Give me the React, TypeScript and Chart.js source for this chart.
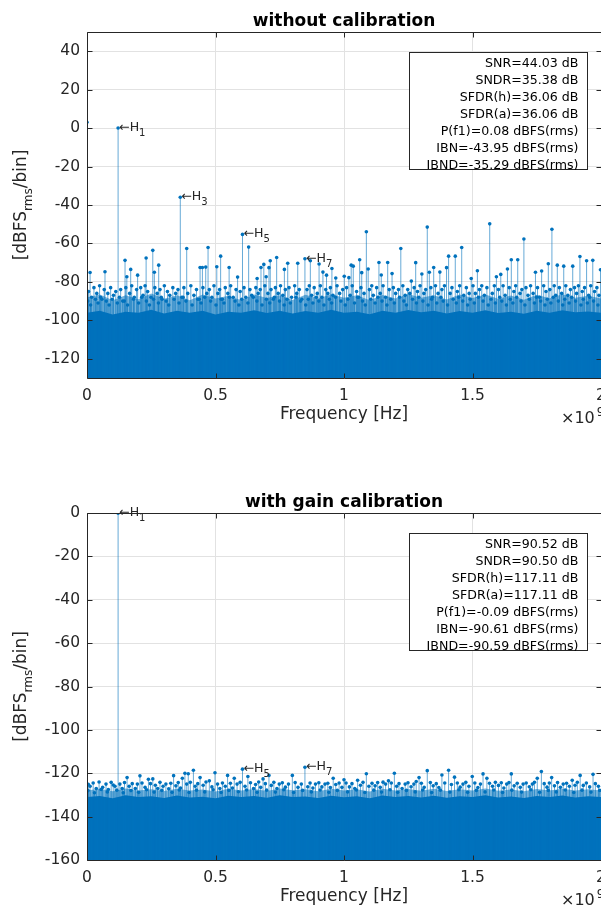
import React, { useEffect, useRef } from "react";
import { Chart, registerables } from "chart.js";

Chart.register(...registerables);

const FONT = "'DejaVu Sans', sans-serif";
const BLUE = "#0072BD";
const STEM = "rgba(0,114,189,0.6)";
const AXIS = "#262626";
const GRID = "#e2e2e2";

// ---------- shared axis values ----------
const xTicks = [0, 0.5, 1, 1.5, 2];
const xTickLabels = ["0", "0.5", "1", "1.5", "2"];
const floorFreqs = [
  0, 0.05, 0.1, 0.15, 0.2, 0.25, 0.3, 0.35, 0.4, 0.45, 0.5, 0.55, 0.6, 0.65, 0.7, 0.75, 0.8, 0.85, 0.9, 0.95, 1,
  1.05, 1.1, 1.15, 1.2, 1.25, 1.3, 1.35, 1.4, 1.45, 1.5, 1.55, 1.6, 1.65, 1.7, 1.75, 1.8, 1.85, 1.9, 1.95, 2,
];

// ---------- top panel: without calibration ----------
const topYTicks = [-120, -100, -80, -60, -40, -20, 0, 20, 40];
const topFloor = [
  -96, -95, -97, -95.5, -96, -94.5, -96.5, -95, -96, -95, -97, -95.5, -96, -94.8, -96.2, -95, -96.5, -95.2, -96, -94.5, -96,
  -95.5, -96.8, -95, -96, -94.6, -95.8, -95, -96.4, -95.2, -96, -94.8, -96.2, -95.5, -96.6, -95, -96, -94.7, -95.8, -95.4, -96,
];
const topHaze = [
  -88, -86.5, -89.5, -87, -89, -86, -88.8, -87, -89.5, -86.6, -88.6, -87.2, -89.5, -86.5, -88.4, -87, -89.4, -86.7, -88.6, -86.4, -88.2,
  -87, -89.6, -86.8, -88.6, -86.3, -88.3, -87, -89.2, -86.6, -88.4, -86.5, -88.8, -87.1, -89.3, -86.7, -88.5, -86.4, -88.2, -87.2, -88.6,
];
const topMinor: [number, number][] = [
  [0.006, -85], [0.018, -88], [0.027, -83], [0.038, -86], [0.049, -82], [0.058, -89], [0.067, -84], [0.081, -86], [0.092, -83],
  [0.103, -87], [0.112, -85], [0.131, -84], [0.139, -90], [0.151, -83], [0.166, -86], [0.174, -82], [0.184, -88], [0.193, -84],
  [0.209, -83], [0.218, -87], [0.226, -82], [0.236, -85], [0.249, -88], [0.264, -83], [0.273, -86], [0.284, -84], [0.292, -89],
  [0.301, -82], [0.313, -85], [0.322, -87], [0.334, -83], [0.345, -86], [0.354, -84], [0.369, -88], [0.377, -83], [0.392, -86],
  [0.404, -82], [0.416, -87], [0.426, -84], [0.437, -89], [0.451, -83], [0.466, -86], [0.476, -84], [0.486, -88], [0.494, -82],
  [0.509, -86], [0.516, -84], [0.527, -89], [0.538, -83], [0.548, -86], [0.559, -82], [0.569, -88], [0.58, -84], [0.596, -85],
  [0.611, -83], [0.618, -88], [0.634, -84], [0.641, -87], [0.657, -83], [0.666, -86], [0.674, -84], [0.692, -82], [0.704, -86],
  [0.716, -84], [0.725, -89], [0.733, -83], [0.744, -86], [0.753, -82], [0.762, -87], [0.772, -84], [0.786, -83], [0.796, -88],
  [0.808, -82], [0.816, -86], [0.826, -84], [0.836, -89], [0.856, -84], [0.865, -82], [0.874, -87], [0.884, -83], [0.896, -86],
  [0.908, -82], [0.914, -88], [0.929, -84], [0.937, -86], [0.947, -83], [0.957, -87], [0.973, -82], [0.983, -86], [0.995, -84],
  [1.01, -83], [1.024, -87], [1.032, -82], [1.049, -85], [1.057, -88], [1.066, -83], [1.078, -86], [1.099, -84], [1.108, -82],
  [1.114, -87], [1.127, -83], [1.141, -86], [1.152, -82], [1.162, -88], [1.176, -84], [1.192, -83], [1.201, -86], [1.212, -84],
  [1.229, -82], [1.238, -87], [1.248, -84], [1.256, -86], [1.273, -83], [1.286, -85], [1.296, -82], [1.311, -86], [1.318, -84],
  [1.338, -83], [1.344, -88], [1.356, -82], [1.366, -86], [1.381, -84], [1.391, -82], [1.413, -86], [1.42, -83], [1.441, -85],
  [1.45, -82], [1.466, -87], [1.476, -83], [1.487, -86], [1.502, -82], [1.511, -86], [1.527, -84], [1.536, -82], [1.546, -87],
  [1.556, -83], [1.577, -86], [1.585, -82], [1.601, -84], [1.619, -82], [1.627, -87], [1.643, -83], [1.661, -85], [1.668, -82],
  [1.685, -86], [1.692, -84], [1.708, -83], [1.716, -87], [1.726, -82], [1.736, -86], [1.753, -83], [1.761, -88], [1.777, -82],
  [1.786, -85], [1.801, -84], [1.818, -82], [1.824, -87], [1.838, -83], [1.847, -86], [1.863, -82], [1.871, -87], [1.881, -84],
  [1.897, -83], [1.905, -86], [1.912, -82], [1.927, -85], [1.936, -83], [1.952, -87], [1.96, -82], [1.975, -85], [1.984, -83],
  [1.992, -87],
];
const topDeep: [number, number][] = [
  [0.003, -90], [0.014, -92], [0.033, -89], [0.043, -91], [0.053, -88], [0.075, -90], [0.086, -92], [0.098, -89], [0.118, -91],
  [0.126, -88], [0.145, -90], [0.158, -92], [0.181, -89], [0.201, -91], [0.213, -88], [0.231, -90], [0.243, -92], [0.259, -89],
  [0.278, -91], [0.289, -88], [0.308, -90], [0.318, -92], [0.339, -89], [0.358, -91], [0.374, -88], [0.385, -90], [0.409, -92],
  [0.431, -89], [0.444, -91], [0.458, -88], [0.481, -90], [0.502, -92], [0.522, -89], [0.533, -91], [0.554, -88], [0.576, -90],
  [0.591, -92], [0.602, -89], [0.626, -91], [0.647, -88], [0.661, -90], [0.681, -92], [0.698, -89], [0.711, -91], [0.729, -88],
  [0.749, -90], [0.767, -92], [0.778, -89], [0.791, -91], [0.813, -88], [0.831, -90], [0.851, -92], [0.861, -89], [0.879, -91],
  [0.892, -88], [0.902, -90], [0.922, -92], [0.943, -89], [0.952, -91], [0.967, -88], [0.988, -90], [1.005, -92], [1.015, -89],
  [1.041, -91], [1.053, -88], [1.072, -90], [1.083, -92], [1.104, -89], [1.121, -91], [1.132, -88], [1.148, -90], [1.167, -92],
  [1.182, -89], [1.196, -91], [1.216, -88], [1.233, -90], [1.243, -92], [1.267, -89], [1.282, -91], [1.291, -88], [1.307, -90],
  [1.327, -92], [1.341, -89], [1.361, -91], [1.377, -88], [1.386, -90], [1.403, -92], [1.425, -89], [1.437, -91], [1.446, -88],
  [1.462, -90], [1.481, -92], [1.491, -89], [1.507, -91], [1.523, -88], [1.541, -90], [1.561, -92], [1.572, -89], [1.589, -91],
  [1.606, -88], [1.614, -90], [1.632, -92], [1.647, -89], [1.657, -91], [1.672, -88], [1.689, -90], [1.704, -92], [1.721, -89],
  [1.741, -91], [1.749, -88], [1.765, -90], [1.782, -92], [1.791, -89], [1.805, -91], [1.814, -88], [1.834, -90], [1.851, -92],
  [1.859, -89], [1.876, -91], [1.886, -88], [1.901, -90], [1.922, -92], [1.931, -89], [1.947, -91], [1.956, -88], [1.971, -90],
  [1.988, -92],
];
const topSpurs: [number, number][] = [
  [0, 3], [0.012, -75.1], [0.07, -74.7], [0.148, -68.8], [0.155, -77.3], [0.17, -73.5], [0.197, -76.5], [0.23, -67.6],
  [0.256, -63.6], [0.262, -75], [0.279, -71.3], [0.388, -62.6], [0.44, -72.5], [0.449, -72.5], [0.462, -72.3], [0.471, -62.1],
  [0.505, -72.1], [0.52, -66.6], [0.553, -72.5], [0.586, -77.5], [0.629, -61.9], [0.662, -78.2], [0.677, -72.5], [0.688, -70.9],
  [0.697, -77.3], [0.708, -72.6], [0.713, -69], [0.738, -67.3], [0.768, -73.5], [0.781, -70.3], [0.82, -70.3], [0.869, -69],
  [0.903, -70.7], [0.918, -74.9], [0.932, -76.5], [0.953, -73], [0.968, -78], [1.001, -77.1], [1.019, -77.8], [1.028, -71.3],
  [1.036, -71.8], [1.061, -68.5], [1.069, -75.2], [1.087, -53.9], [1.094, -73.3], [1.136, -69.9], [1.145, -76.4], [1.17, -69.9],
  [1.187, -75.7], [1.221, -62.6], [1.262, -79.6], [1.279, -70], [1.303, -75.9], [1.324, -51.5], [1.332, -75], [1.349, -72.5],
  [1.373, -74.9], [1.399, -72.6], [1.407, -66.6], [1.433, -66.6], [1.458, -62.1], [1.495, -78.2], [1.519, -74.2], [1.567, -49.8],
  [1.593, -77.3], [1.61, -76.1], [1.636, -73.3], [1.651, -68.5], [1.676, -68.5], [1.7, -57.7], [1.745, -75], [1.769, -74.3],
  [1.795, -70.6], [1.809, -52.6], [1.83, -71.3], [1.855, -71.8], [1.89, -71.8], [1.918, -66.8], [1.944, -69], [1.968, -68.8],
  [1.998, -73.7],
];
const topHarmonics: [number, number, string][] = [
  [0.121, 0.08, "1"], [0.363, -35.98, "3"], [0.605, -55.3, "5"], [0.848, -68, "7"],
];
const topStats = [
  "SNR=44.03 dB", "SNDR=35.38 dB", "SFDR(h)=36.06 dB", "SFDR(a)=36.06 dB",
  "P(f1)=0.08 dBFS(rms)", "IBN=-43.95 dBFS(rms)", "IBND=-35.29 dBFS(rms)",
];

// ---------- bottom panel: with gain calibration ----------
const bottomYTicks = [-160, -140, -120, -100, -80, -60, -40, -20, 0];
const bottomFloor = [
  -131, -130.5, -131.5, -130.2, -131, -130.6, -131.4, -130.3, -131.2, -130.8, -131.5, -130.4, -131, -130.5, -131.3, -130.2, -131,
  -130.7, -131.4, -130.4, -131.1, -130.6, -131.5, -130.3, -131, -130.5, -131.2, -130.4, -131.3, -130.6, -131, -130.2, -131.2,
  -130.7, -131.4, -130.5, -131, -130.3, -131.2, -130.6, -131,
];
const bottomHaze = [
  -128, -127.2, -128.3, -127, -128, -127.4, -128.2, -127.1, -128, -127.5, -128.4, -127.2, -127.9, -127.3, -128.2, -127, -127.8,
  -127.4, -128.3, -127.2, -128, -127.4, -128.4, -127.1, -127.9, -127.3, -128.1, -127.2, -128.2, -127.4, -127.9, -127, -128.1,
  -127.5, -128.3, -127.3, -127.9, -127.1, -128, -127.4, -128,
];
const bottomMinor: [number, number][] = [
  [0.012, -126], [0.024, -124.5], [0.036, -127], [0.047, -124], [0.061, -126.5], [0.074, -125], [0.083, -127.5], [0.094, -124.2],
  [0.109, -126], [0.128, -125], [0.137, -127], [0.146, -124.3], [0.164, -126], [0.176, -124.8], [0.188, -127], [0.196, -125],
  [0.214, -124.5], [0.226, -126.5], [0.247, -124.8], [0.266, -125.5], [0.275, -127], [0.284, -124.2], [0.296, -126], [0.307, -125],
  [0.318, -127.2], [0.326, -124.6], [0.346, -125.8], [0.355, -124.3], [0.364, -126.8], [0.388, -125], [0.402, -124.2], [0.421, -126],
  [0.431, -124.8], [0.452, -125.5], [0.463, -124], [0.486, -126.3], [0.508, -125], [0.517, -127], [0.527, -124.5], [0.538, -126],
  [0.558, -124.6], [0.566, -126.8], [0.584, -125], [0.596, -124.2], [0.615, -126], [0.636, -124.4], [0.648, -127], [0.656, -125.2],
  [0.668, -124], [0.676, -126.5], [0.694, -124.8], [0.717, -125.6], [0.727, -124.2], [0.739, -127], [0.748, -125], [0.76, -124.4],
  [0.772, -126.4], [0.784, -125], [0.81, -124.3], [0.821, -126.5], [0.834, -125], [0.859, -126.2], [0.868, -124.5], [0.879, -126.8],
  [0.889, -125], [0.902, -124.4], [0.914, -126.3], [0.926, -125], [0.937, -124.6], [0.947, -126.6], [0.968, -125.2], [0.981, -124.5],
  [0.992, -126.5], [1.008, -124.5], [1.021, -126.3], [1.031, -124.8], [1.042, -127], [1.064, -125.5], [1.074, -124.2], [1.097, -126],
  [1.109, -124.6], [1.121, -125.8], [1.131, -124.3], [1.141, -126.5], [1.162, -125], [1.184, -124.5], [1.205, -126], [1.214, -124.8],
  [1.226, -127], [1.238, -125], [1.249, -124.4], [1.261, -126.2], [1.272, -125], [1.301, -124.6], [1.312, -126.5], [1.336, -124.3],
  [1.347, -125.8], [1.359, -124.8], [1.369, -126.6], [1.392, -124.5], [1.418, -125.2], [1.441, -124.5], [1.452, -126.4], [1.463, -125],
  [1.474, -124.2], [1.486, -126], [1.509, -124.5], [1.521, -126.6], [1.531, -125], [1.566, -124.6], [1.578, -126], [1.589, -124.2],
  [1.601, -125.6], [1.612, -124.4], [1.622, -126.8], [1.633, -125], [1.642, -124.3], [1.662, -125.8], [1.674, -124.6], [1.686, -126.5],
  [1.697, -125], [1.709, -124.5], [1.721, -126.2], [1.733, -125], [1.741, -124.2], [1.779, -124.8], [1.79, -126.4], [1.799, -124.5],
  [1.819, -125.8], [1.831, -124.3], [1.842, -126.5], [1.853, -125], [1.866, -124.6], [1.877, -126], [1.899, -125.5], [1.908, -124.2],
  [1.931, -125.6], [1.943, -124.5], [1.956, -126.3], [1.978, -124.8], [1.99, -126],
];
const bottomDeep: [number, number][] = [
  [0.004, -128], [0.029, -129], [0.055, -127.5], [0.079, -128.6], [0.116, -127.8], [0.141, -129], [0.171, -128], [0.201, -128.8],
  [0.232, -127.6], [0.261, -128.7], [0.291, -127.9], [0.331, -128.8], [0.359, -127.7], [0.397, -128.9], [0.426, -127.8],
  [0.458, -128.6], [0.491, -127.6], [0.522, -128.9], [0.552, -127.9], [0.589, -128.5], [0.621, -127.7], [0.662, -128.8],
  [0.699, -127.8], [0.733, -128.7], [0.766, -127.6], [0.804, -128.9], [0.839, -127.9], [0.873, -128.6], [0.907, -127.7],
  [0.941, -128.8], [0.974, -127.9], [1.014, -128.6], [1.048, -127.7], [1.081, -128.9], [1.116, -127.8], [1.146, -128.7],
  [1.179, -127.6], [1.209, -128.8], [1.243, -127.9], [1.277, -128.6], [1.306, -127.7], [1.341, -128.9], [1.375, -127.8],
  [1.412, -128.7], [1.447, -127.6], [1.481, -128.8], [1.515, -127.9], [1.549, -128.6], [1.583, -127.7], [1.617, -128.9],
  [1.653, -127.8], [1.691, -128.7], [1.727, -127.6], [1.761, -128.8], [1.795, -127.9], [1.826, -128.6], [1.861, -127.7],
  [1.894, -128.9], [1.926, -127.8], [1.961, -128.7], [1.995, -127.9],
];
const bottomSpurs: [number, number][] = [
  [0.005, -125.1], [0.102, -125.4], [0.156, -122], [0.206, -121.2], [0.239, -122.8], [0.256, -122.6], [0.337, -121.1],
  [0.371, -122.3], [0.381, -120], [0.394, -120.2], [0.414, -118.6], [0.44, -122], [0.476, -123.5], [0.498, -119.8], [0.547, -121],
  [0.573, -122.3], [0.626, -121.5], [0.685, -122.6], [0.708, -121], [0.799, -121], [0.958, -122.3], [1.0, -123], [1.053, -123.2],
  [1.087, -120.2], [1.152, -124.1], [1.173, -123.5], [1.196, -120], [1.281, -123.8], [1.292, -122], [1.324, -118.8], [1.381, -120.8],
  [1.407, -118.6], [1.43, -121.8], [1.499, -121.5], [1.541, -120.3], [1.556, -122.3], [1.651, -120.3], [1.752, -122.3],
  [1.768, -119.2], [1.808, -122], [1.888, -123.2], [1.919, -121], [1.969, -120.5],
];
const bottomHarmonics: [number, number, string][] = [
  [0.121, -0.09, "1"], [0.605, -118.1, "5"], [0.848, -117.2, "7"],
];
const bottomStats = [
  "SNR=90.52 dB", "SNDR=90.50 dB", "SFDR(h)=117.11 dB", "SFDR(a)=117.11 dB",
  "P(f1)=-0.09 dBFS(rms)", "IBN=-90.61 dBFS(rms)", "IBND=-90.59 dBFS(rms)",
];

type PanelProps = {
  height: number;
  padTop: number;
  axisHeight: number;
  title: string;
  yMin: number;
  yMax: number;
  yTicks: number[];
  floor: number[];
  haze: number[];
  minor: [number, number][];
  deep: [number, number][];
  spurs: [number, number][];
  harmonics: [number, number, string][];
  stats: string[];
};

function stemPoints(list: [number, number][], base: number) {
  const pts: { x: number; y: number | null }[] = [];
  for (const [f, v] of list) {
    pts.push({ x: f, y: base }, { x: f, y: v }, { x: f, y: null });
  }
  return pts;
}

function makeDecor(p: PanelProps) {
  return {
    id: "decor",
    afterDraw(chart: any) {
      const { ctx, chartArea: a, scales } = chart;
      const xs = scales.x;
      const ys = scales.y;
      ctx.save();
      ctx.strokeStyle = AXIS;
      ctx.lineWidth = 1;
      const L = Math.floor(a.left) + 0.5;
      const T = Math.floor(a.top) + 0.5;
      const B = Math.floor(a.bottom) + 0.5;
      const R = Math.floor(a.right) + 0.5;
      ctx.beginPath();
      ctx.moveTo(L, B); ctx.lineTo(L, T); ctx.lineTo(R, T); ctx.lineTo(R, B); ctx.lineTo(L, B);
      for (const v of p.yTicks) {
        const y = Math.round(ys.getPixelForValue(v)) + 0.5;
        ctx.moveTo(L, y); ctx.lineTo(L + 5, y);
        ctx.moveTo(R - 5, y); ctx.lineTo(R, y);
      }
      for (const v of xTicks) {
        const x = Math.round(xs.getPixelForValue(v)) + 0.5;
        ctx.moveTo(x, B); ctx.lineTo(x, B - 5);
        ctx.moveTo(x, T); ctx.lineTo(x, T + 5);
      }
      ctx.stroke();

      // title
      ctx.fillStyle = "#000";
      ctx.font = `bold 17px ${FONT}`;
      ctx.textAlign = "center";
      ctx.textBaseline = "alphabetic";
      const cx = (a.left + a.right) / 2;
      ctx.fillText(p.title, cx, a.top - 6);

      // x label
      ctx.fillStyle = AXIS;
      ctx.font = `17px ${FONT}`;
      ctx.fillText("Frequency [Hz]", cx, a.bottom + 41);

      // x10^9
      ctx.textAlign = "left";
      ctx.font = `16px ${FONT}`;
      const ex = a.right - 40;
      ctx.fillText("\u00d710", ex, a.bottom + 45);
      const w10 = ctx.measureText("\u00d710").width;
      ctx.font = `12px ${FONT}`;
      ctx.fillText("9", ex + w10 + 2, a.bottom + 38);

      // y label with subscript
      const cy = (a.top + a.bottom) / 2;
      ctx.save();
      ctx.translate(22, cy);
      ctx.rotate(-Math.PI / 2);
      ctx.textBaseline = "middle";
      ctx.textAlign = "left";
      ctx.font = `17px ${FONT}`;
      const w1 = ctx.measureText("[dBFS").width;
      const w3 = ctx.measureText("/bin]").width;
      ctx.font = `12px ${FONT}`;
      const w2 = ctx.measureText("rms").width;
      let u = -(w1 + w2 + w3) / 2;
      ctx.font = `17px ${FONT}`;
      ctx.fillText("[dBFS", u, 0);
      u += w1;
      ctx.font = `12px ${FONT}`;
      ctx.fillText("rms", u, 7);
      u += w2;
      ctx.font = `17px ${FONT}`;
      ctx.fillText("/bin]", u, 0);
      ctx.restore();

      // harmonic labels
      ctx.fillStyle = AXIS;
      ctx.textAlign = "left";
      ctx.textBaseline = "alphabetic";
      for (const [f, v, n] of p.harmonics) {
        const px = xs.getPixelForValue(f);
        const py = ys.getPixelForValue(v);
        ctx.font = `12.6px ${FONT}`;
        const s = "\u2190H";
        ctx.fillText(s, px + 1, py + 3);
        const ws = ctx.measureText(s).width;
        ctx.font = `10px ${FONT}`;
        ctx.fillText(n, px + 1 + ws, py + 8);
      }

      // stats box
      const bw = 178;
      const bh = 117;
      const bx = Math.floor(a.right - 14 - bw) + 0.5;
      const by = Math.floor(a.top + 20) + 0.5;
      ctx.fillStyle = "#fff";
      ctx.fillRect(bx, by, bw, bh);
      ctx.strokeStyle = AXIS;
      ctx.strokeRect(bx, by, bw, bh);
      ctx.fillStyle = "#000";
      ctx.font = `12.6px ${FONT}`;
      ctx.textAlign = "right";
      ctx.textBaseline = "middle";
      p.stats.forEach((s, i) => {
        ctx.fillText(s, bx + bw - 9, by + 11.5 + i * 16.9);
      });
      ctx.restore();
    },
  };
}

function Panel(p: PanelProps) {
  const ref = useRef<HTMLCanvasElement>(null);
  useEffect(() => {
    const canvas = ref.current;
    if (!canvas) return;
    const allStems: [number, number][] = [
      ...p.spurs,
      ...p.harmonics.map(([f, v]) => [f, v] as [number, number]),
    ];
    const marks = (list: [number, number][], order: number) => ({
      data: list.map(([f, v]) => ({ x: f, y: v })),
      showLine: false,
      pointRadius: 1.8,
      pointBorderWidth: 0,
      pointBackgroundColor: BLUE,
      order,
    });
    const stems = (list: [number, number][], order: number) => ({
      data: stemPoints(list, p.yMin),
      borderColor: STEM,
      borderWidth: 1,
      pointRadius: 0,
      spanGaps: false,
      order,
    });
    const chart = new Chart(canvas, {
      type: "line",
      data: {
        datasets: [
          {
            data: floorFreqs.map((f, i) => ({ x: f, y: p.floor[i] })),
            fill: "start",
            backgroundColor: BLUE,
            borderWidth: 0,
            pointRadius: 0,
            order: 8,
          },
          {
            data: floorFreqs.map((f, i) => ({ x: f, y: p.haze[i] })),
            fill: "start",
            backgroundColor: "rgba(0,114,189,0.55)",
            borderWidth: 0,
            pointRadius: 0,
            order: 9,
          },
          stems(p.deep, 7),
          marks(p.deep, 6),
          stems(p.minor, 5),
          marks(p.minor, 4),
          stems(allStems, 3),
          marks(allStems, 2),
        ],
      },
      options: {
        responsive: false,
        animation: false,
        devicePixelRatio: 1,
        events: [],
        layout: { autoPadding: false, padding: { top: p.padTop, left: 0, right: 0, bottom: 0 } },
        plugins: { legend: { display: false }, tooltip: { enabled: false }, title: { display: false } },
        scales: {
          x: {
            type: "linear",
            min: 0,
            max: 2,
            grid: { color: GRID, drawTicks: false },
            border: { display: false },
            afterBuildTicks: (s: any) => {
              s.ticks = xTicks.map((value) => ({ value }));
            },
            afterFit: (s: any) => {
              s.height = p.axisHeight;
              s.paddingLeft = 0;
              s.paddingRight = 0;
            },
            ticks: {
              autoSkip: false,
              maxRotation: 0,
              padding: 9,
              color: AXIS,
              font: { family: FONT, size: 15.5 },
              callback: (v: any) => {
                const i = xTicks.indexOf(Number(v));
                return i >= 0 ? xTickLabels[i] : "";
              },
            },
          },
          y: {
            type: "linear",
            min: p.yMin,
            max: p.yMax,
            grid: { color: GRID, drawTicks: false },
            border: { display: false },
            afterBuildTicks: (s: any) => {
              s.ticks = p.yTicks.map((value) => ({ value }));
            },
            afterFit: (s: any) => {
              s.width = 87;
            },
            ticks: {
              autoSkip: false,
              padding: 7,
              color: AXIS,
              font: { family: FONT, size: 15.5 },
              callback: (v: any) => String(v),
            },
          },
        },
      },
      plugins: [makeDecor(p)],
    } as any);
    return () => chart.destroy();
  }, []);
  return (
    <canvas
      ref={ref}
      width={601}
      height={p.height}
      style={{ display: "block", width: 601, height: p.height }}
    />
  );
}

export default function App() {
  return (
    <div style={{ position: "absolute", left: 0, top: 0, width: 601, height: 913, background: "#fff" }}>
      <Panel
        height={456}
        padTop={32}
        axisHeight={78}
        title="without calibration"
        yMin={-130}
        yMax={50}
        yTicks={topYTicks}
        floor={topFloor}
        haze={topHaze}
        minor={topMinor}
        deep={topDeep}
        spurs={topSpurs}
        harmonics={topHarmonics}
        stats={topStats}
      />
      <Panel
        height={457}
        padTop={57}
        axisHeight={53}
        title="with gain calibration"
        yMin={-160}
        yMax={0}
        yTicks={bottomYTicks}
        floor={bottomFloor}
        haze={bottomHaze}
        minor={bottomMinor}
        deep={bottomDeep}
        spurs={bottomSpurs}
        harmonics={bottomHarmonics}
        stats={bottomStats}
      />
    </div>
  );
}
